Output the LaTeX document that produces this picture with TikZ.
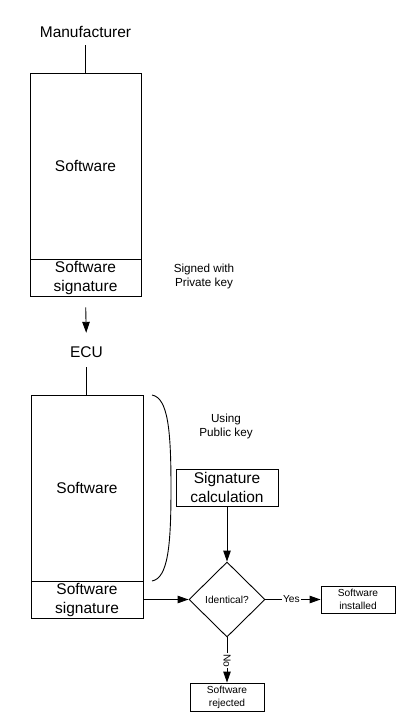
\documentclass[tikz,border=0pt]{standalone}
\usepackage{fontspec}
\setmainfont{Liberation Sans}
\usetikzlibrary{shapes.geometric,arrows.meta}
\begin{document}
\begin{tikzpicture}[x=1pt,y=-1pt,
  box/.style={draw, line width=0.9pt, inner sep=0pt, align=center},
  big/.style={font=\fontsize{15.5}{19}\selectfont},
  small/.style={font=\fontsize{10.2}{13}\selectfont},
  note/.style={font=\fontsize{11.7}{14}\selectfont, align=center},
  conn/.style={line width=0.9pt},
  arr/.style={conn, -{Triangle[length=11pt,width=7.5pt]}},
  lbl/.style={small, fill=white, inner sep=1pt}]
\useasboundingbox (0,0) rectangle (420,718);
% Manufacturer part
\node[big, inner sep=0pt] (manu) at (85.5,32) {Manufacturer};
\node[box, big, minimum width=111pt, minimum height=186pt] (sw1) at (85.5,166) {Software};
\node[box, big, minimum width=111pt, minimum height=37pt] (sig1) at (85.5,277.5) {Software\\signature};
\node[note] (signed) at (204,276) {Signed with\\Private key};
\node[big, inner sep=0pt] (ecu) at (86.5,352) {ECU};
\draw[conn, shorten <=7.3pt] (manu.south) -- (manu.south |- sw1.north);
\draw[arr, shorten <=11pt, shorten >=13.5pt] (sig1.south) -- (ecu.north);
% ECU part
\node[box, big, minimum width=112pt, minimum height=186pt] (sw2) at (87,488) {Software};
\node[box, big, minimum width=112pt, minimum height=37pt] (sig2) at (87,599.5) {Software\\signature};
\draw[conn, shorten <=9.5pt] (ecu.south) -- (ecu.south |- sw2.north);
\coordinate (bt) at (152,395);
\coordinate (bb) at (152,581);
\draw[conn] (bt) .. controls (168,398) and (171,430) .. (171,488)
            .. controls (171,546) and (168,578) .. (bb);
\node[note] (using) at (226,426) {Using\\Public key};
\node[box, big, minimum width=102pt, minimum height=37pt] (calc) at (227,487.5) {Signature\\calculation};
\node[draw, line width=0.9pt, shape=diamond, inner sep=0pt, minimum width=76pt, minimum height=75pt, small] (dia) at (227,599.5) {Identical?};
\node[box, small, minimum width=74pt, minimum height=27pt] (inst) at (358,599.5) {Software\\installed};
\node[box, small, minimum width=74pt, minimum height=28pt] (rej) at (227,697) {Software\\rejected};
\draw[arr] (calc.south) -- (dia.north);
\draw[arr] (sig2.east) -- (dia.west);
\draw[arr] (dia.east) -- node[lbl, pos=0.47] {Yes} (inst.west);
\draw[arr] (dia.south) -- node[lbl, rotate=-90, pos=0.52] {No} (rej.north);
\end{tikzpicture}
\end{document}
